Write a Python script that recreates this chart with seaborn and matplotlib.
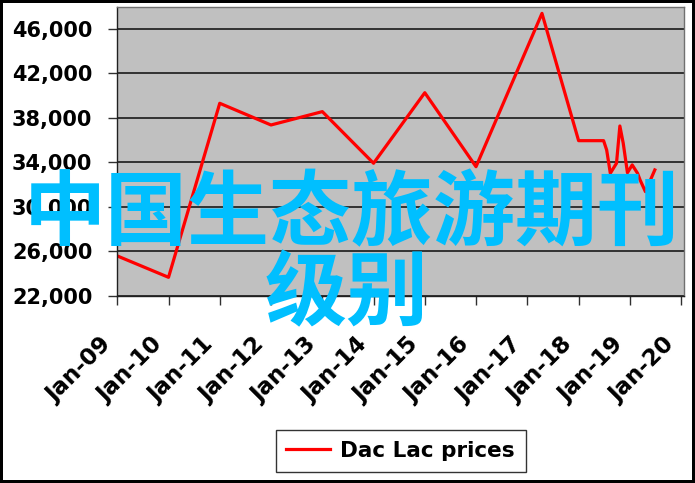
import pandas as pd
import seaborn as sns
import matplotlib
matplotlib.use("Agg")
import matplotlib.pyplot as plt
import matplotlib.dates as mdates
import matplotlib.transforms as mtransforms
from matplotlib.ticker import FuncFormatter

# values
dates = ["2009-01-01", "2010-01-01", "2011-01-01", "2012-01-01", "2013-01-01",
         "2014-01-01", "2015-01-01", "2016-01-01", "2017-04-15", "2018-01-01",
         "2018-06-28", "2018-07-20", "2018-08-15", "2018-09-28", "2018-10-22",
         "2018-11-15", "2018-12-15", "2019-01-18", "2019-02-25", "2019-03-15",
         "2019-04-22", "2019-05-28", "2019-06-28"]
prices = [25600, 23680, 39320, 37370, 38570,
          33930, 40270, 33620, 47400, 35960,
          35960, 35120, 33030, 33930, 37280,
          35730, 33080, 33780, 33030, 32430,
          31380, 32430, 33330]
series_name = "Dac Lac prices"
overlay_lines = ["中国生态旅游期刊", "级别"]

df = pd.DataFrame({"date": pd.to_datetime(dates), "price": prices})

fig = plt.figure(figsize=(6.95, 4.83), dpi=100)
fig.patch.set_facecolor("white")
fig.patch.set_edgecolor("black")
fig.patch.set_linewidth(3)

W, H = 695, 483
ax = fig.add_axes([117.3 / W, 1 - 296 / H, (684 - 117.3) / W, (296 - 6.7) / H])
ax.set_facecolor("#C0C0C0")

sns.lineplot(data=df, x="date", y="price", color="red", linewidth=2.3,
             label=series_name, ax=ax)

ax.set_xlim(pd.Timestamp("2009-01-01"), pd.Timestamp("2020-01-22"))
ax.set_ylim(22000, 48000)
ax.set_yticks(range(22000, 46001, 4000))
ax.yaxis.set_major_formatter(FuncFormatter(lambda v, _: f"{int(v):,}"))
ax.xaxis.set_major_locator(mdates.YearLocator())
ax.xaxis.set_major_formatter(mdates.DateFormatter("%b-%y"))
ax.set_xlabel("")
ax.set_ylabel("")

ax.grid(axis="y", color="#1a1a1a", linewidth=1.2)
ax.set_axisbelow(True)
for s in ax.spines.values():
    s.set_color("#707070")
    s.set_linewidth(1.0)
ax.spines["left"].set_color("#202020")
ax.spines["bottom"].set_color("#202020")

ax.tick_params(axis="both", direction="out", length=6.5, width=1.0,
               color="#303030")
ax.tick_params(axis="y", pad=11.5, labelsize=15)
ax.tick_params(axis="x", pad=26, labelsize=16.5)
for lbl in ax.get_yticklabels():
    lbl.set_fontweight("bold")
shift = mtransforms.ScaledTranslation(-0.10, 0, fig.dpi_scale_trans)
for lbl in ax.get_xticklabels():
    lbl.set_fontweight("bold")
    lbl.set_rotation(45)
    lbl.set_ha("right")
    lbl.set_va("center")
    lbl.set_rotation_mode("anchor")
    lbl.set_transform(lbl.get_transform() + shift)

leg = ax.legend(loc="center", bbox_to_anchor=(400.7 / W, 1 - 451 / H),
                bbox_transform=fig.transFigure, frameon=True, fancybox=False,
                edgecolor="black", prop={"weight": "bold", "size": 15.5},
                handlelength=2.0, borderpad=0.5, handletextpad=0.5)
leg.get_frame().set_linewidth(1.0)

# big cyan overlay text
fig.text(352 / W, 1 - 216 / H, overlay_lines[0], fontsize=59, color="#00BFFF",
         family=["Noto Sans CJK SC", "DejaVu Sans"], weight="bold",
         ha="center", va="center")
fig.text(347 / W, 1 - 296 / H, overlay_lines[1], fontsize=59, color="#00BFFF",
         family=["Noto Sans CJK SC", "DejaVu Sans"], weight="bold",
         ha="center", va="center")

fig.savefig("out.png", dpi=100)
